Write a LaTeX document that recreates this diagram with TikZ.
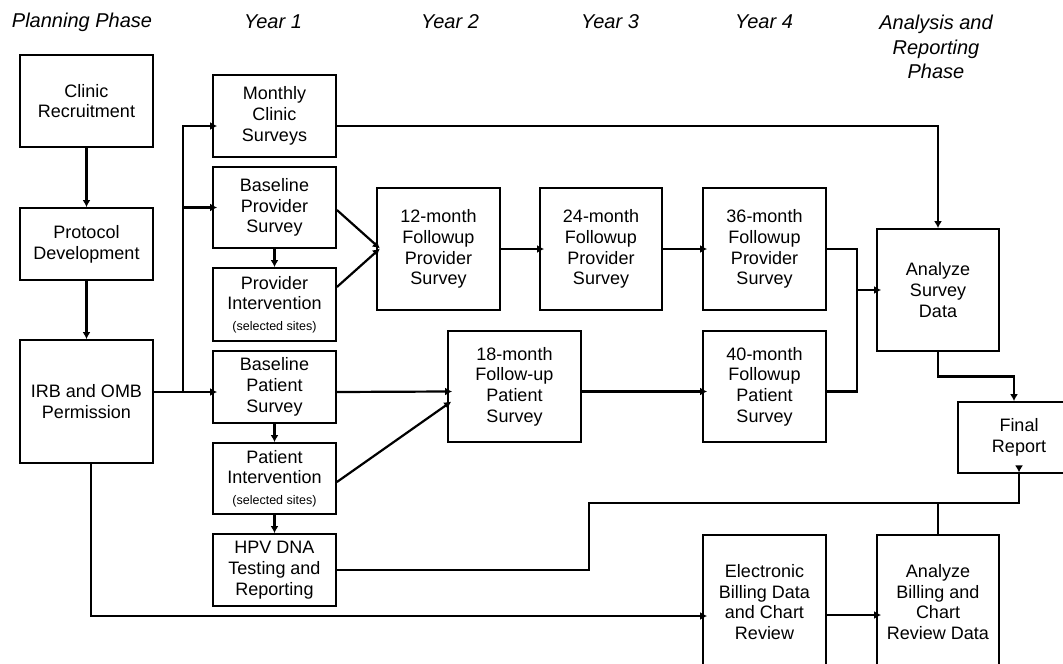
\documentclass[tikz,border=0pt]{standalone}
\usepackage{fontspec}
\setmainfont{Liberation Sans}
\usetikzlibrary{arrows.meta,calc}
\begin{document}
\begin{tikzpicture}[x=1pt,y=-1pt,
  box/.style={draw,line width=1.8pt,rectangle,align=center,inner sep=0pt,font=\fontsize{18}{20.7}\selectfont},
  hdr/.style={align=center,inner sep=0pt,font=\fontsize{20}{24.5}\selectfont\itshape},
  conn/.style={line width=2.2pt},
  arr/.style={conn,-{Latex[length=7pt,width=8pt]}},
  arrin/.style={arr,shorten >=-5pt}]
\useasboundingbox (0,0) rectangle (1063,664);
\clip (0,0) rectangle (1063,664);

% headers
\node[hdr] (h0) at (82,22) {Planning Phase};
\node[hdr] (h1) at (273,22) {Year 1};
\node[hdr] (h2) at (450,22) {Year 2};
\node[hdr] (h3) at (610,22) {Year 3};
\node[hdr] (h4) at (764,22) {Year 4};
\node[hdr] (h5) at (936,47) {Analysis and\\Reporting\\Phase};

% planning column
\node[box,minimum width=133pt,minimum height=92pt] (cr) at (86.5,101) {Clinic\\Recruitment};
\node[box,minimum width=133pt,minimum height=72pt] (pd) at (86.5,244) {Protocol\\Development};
\node[box,minimum width=133pt,minimum height=123pt] (irb) at (86.5,401.5) {IRB and OMB\\Permission};

% year 1 column
\node[box,minimum width=123pt,minimum height=82pt] (mcs) at (274.5,116) {Monthly\\Clinic\\Surveys};
\node[box,minimum width=123pt,minimum height=81pt] (bps) at (274.5,207.5) {Baseline\\Provider\\Survey};
\node[box,minimum width=123pt,minimum height=73pt] (pi) at (274.5,304.5) {Provider\\Intervention\\{\fontsize{12.5}{13}\selectfont (selected sites)}};
\node[box,minimum width=123pt,minimum height=72pt] (bpat) at (274.5,387) {Baseline\\Patient\\Survey};
\node[box,minimum width=123pt,minimum height=71pt] (pati) at (274.5,478.5) {Patient\\Intervention\\{\fontsize{12.5}{13}\selectfont (selected sites)}};
\node[box,minimum width=123pt,minimum height=72pt] (hpv) at (274.5,570) {HPV DNA\\Testing and\\Reporting};

% follow-ups
\node[box,minimum width=123pt,minimum height=122pt] (m12) at (438.5,249) {12-month\\Followup\\Provider\\Survey};
\node[box,minimum width=122pt,minimum height=122pt] (m24) at (601,249) {24-month\\Followup\\Provider\\Survey};
\node[box,minimum width=133pt,minimum height=111pt] (m18) at (514.5,386.5) {18-month\\Follow-up\\Patient\\Survey};
\node[box,minimum width=123pt,minimum height=122pt] (m36) at (764.5,249) {36-month\\Followup\\Provider\\Survey};
\node[box,minimum width=123pt,minimum height=111pt] (m40) at (764.5,386.5) {40-month\\Followup\\Patient\\Survey};

% analysis
\node[box,minimum width=122pt,minimum height=122pt] (asd) at (938,290) {Analyze\\Survey\\Data};
\node[box,minimum width=122pt,minimum height=71pt] (fr) at (1019,437.5) {Final\\Report};
\node[box,minimum width=123pt,minimum height=134pt] (ebd) at (764.5,602) {Electronic\\Billing Data\\and Chart\\Review};
\node[box,minimum width=122pt,minimum height=134pt] (abd) at (938,602) {Analyze\\Billing and\\Chart\\Review Data};

% vertical arrows in planning column and year 1
\draw[arr] (cr.south) -- (pd.north);
\draw[arr] (pd.south) -- (irb.north);
\draw[arr] (bps.south) -- (pi.north);
\draw[arr] (bpat.south) -- (pati.north);
\draw[arr] (pati.south) -- (hpv.north);

% IRB branches
\coordinate (jx) at (183,392);
\draw[arrin] (irb.east |- jx) -- ([yshift=-5pt]bpat.west);
\draw[arrin] (jx) |- ([yshift=-10pt]mcs.west);
\draw[arrin] (jx |- bps.west) -- (bps.west);

% into 12-month
\draw[arrin] ([yshift=-2.5pt]bps.east) -- ([yshift=4pt]m12.west);
\draw[arrin] ([yshift=17.5pt]pi.east) -- ([yshift=-3pt]m12.west);
\draw[arrin] (m12.east) -- (m24.west);
\draw[arrin] (m24.east) -- (m36.west);

% into 18-month
\draw[arrin] ([yshift=-5pt]bpat.east) -- ([yshift=-5pt]m18.west);
\draw[arrin] ([yshift=-3.5pt]pati.east) -- ([yshift=-18pt]m18.west);
\draw[arrin] ([yshift=-5pt]m18.east) -- ([yshift=-5pt]m40.west);

% into Analyze Survey Data
\coordinate (jv) at (857,290);
\draw[conn] (m36.east) -| (jv);
\draw[conn] ([yshift=-5pt]m40.east) -| (jv);
\draw[arrin] (jv) -- (asd.west);
\draw[arr] ([yshift=-10pt]mcs.east) -| (asd.north);

% to Final Report
\draw[arr] (asd.south) |- ($(asd.south)!0.5!([xshift=-5pt]fr.north)$) -| ([xshift=-5pt]fr.north);
\coordinate (jb) at (589,503);
\draw[conn] (hpv.east) -| (jb) -| (fr.south);
\draw[conn] (abd.north) -- (abd.north |- jb);
\draw[arr] ([yshift=8pt]fr.south) -- ([yshift=1.5pt]fr.south);

% billing
\draw[arrin] ([xshift=4.5pt]irb.south) |- ([yshift=-14pt]ebd.west);
\draw[arrin] ([yshift=-13pt]ebd.east) -- ([yshift=-13pt]abd.west);
\end{tikzpicture}
\end{document}
